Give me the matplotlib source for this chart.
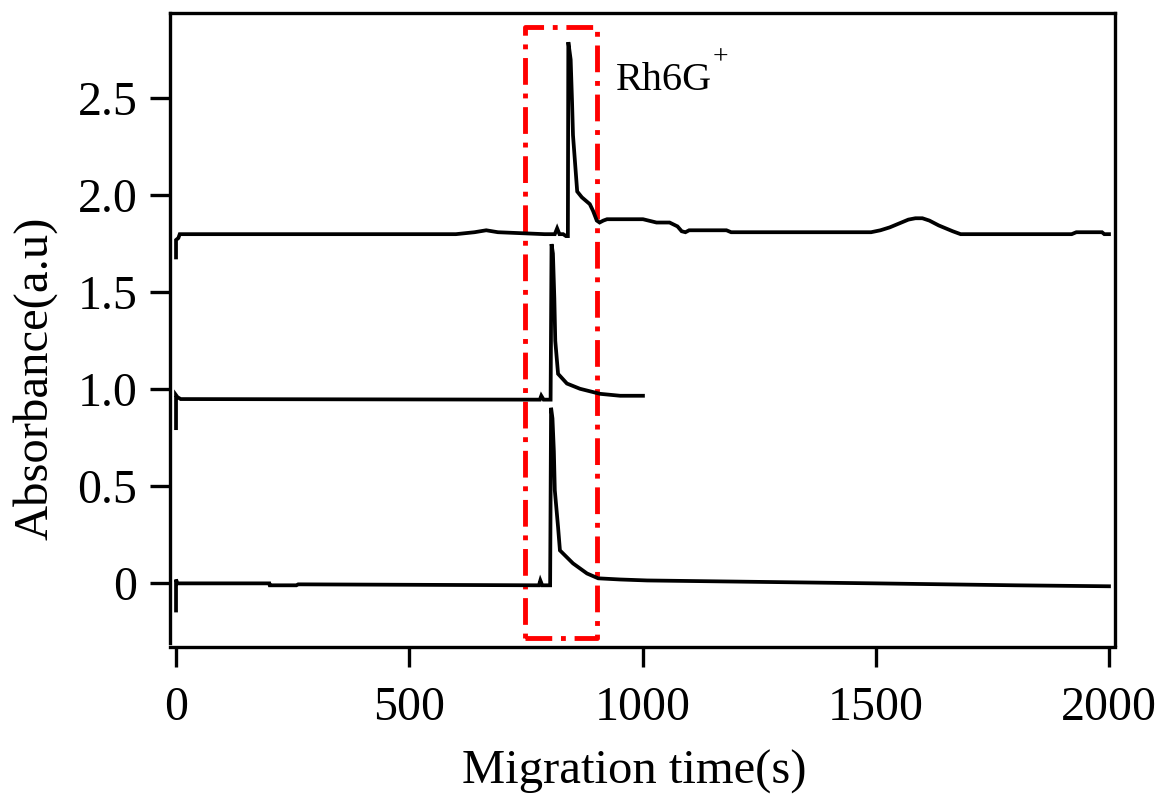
import matplotlib
matplotlib.use("Agg")
import matplotlib.pyplot as plt

plt.rcParams['font.family'] = ['Liberation Serif', 'DejaVu Serif']

# ---- data ----
# top trace (offset ~1.8)
top_t = [0, 0, 5, 8, 600, 640, 665, 690, 790, 805, 812, 817, 822, 830, 836, 840, 841,
         846, 849, 851, 860, 870, 887, 894, 902, 908, 916, 924, 1001, 1030, 1058, 1075,
         1084, 1092, 1100, 1180, 1190, 1490, 1510, 1530, 1550, 1570, 1585, 1600, 1615,
         1635, 1650, 1665, 1682, 1920, 1930, 1985, 1990, 2000]
top_v = [1.68, 1.77, 1.78, 1.80, 1.80, 1.81, 1.82, 1.81, 1.80, 1.80, 1.80, 1.83, 1.80,
         1.80, 1.79, 1.79, 2.79, 2.70, 2.48, 2.31, 2.02, 1.99, 1.955, 1.92, 1.87, 1.86,
         1.87, 1.877, 1.877, 1.86, 1.86, 1.84, 1.815, 1.81, 1.82, 1.82, 1.81, 1.81, 1.82,
         1.835, 1.855, 1.875, 1.882, 1.882, 1.87, 1.845, 1.83, 1.815, 1.80, 1.80, 1.81,
         1.81, 1.80, 1.80]

# middle trace (offset ~0.95)
mid_t = [0, 0, 3, 10, 780, 783, 788, 803, 805, 808, 811, 813, 819, 838, 866, 909, 952, 1001]
mid_v = [0.80, 0.97, 0.96, 0.95, 0.947, 0.967, 0.947, 0.947, 1.749, 1.70, 1.47, 1.25,
         1.08, 1.03, 1.003, 0.977, 0.967, 0.967]

# bottom trace (offset 0)
bot_t = [0, 0, 3, 8, 200, 201, 258, 262, 778, 781, 785, 802, 804, 807, 810, 812, 819,
         823, 851, 881, 905, 952, 1010, 1500, 1800, 2000]
bot_v = [-0.14, 0.02, 0.0, 0.0, 0.0, -0.01, -0.01, -0.005, -0.01, 0.015, -0.01, -0.01,
         0.905, 0.85, 0.68, 0.48, 0.29, 0.17, 0.103, 0.051, 0.026, 0.02, 0.015, 0.0,
         -0.01, -0.015]

# highlight box (time range and absorbance range)
box_t = [748, 902]
box_a = [-0.283, 2.87]

x_ticks = [0, 500, 1000, 1500, 2000]
y_ticks = [0, 0.5, 1.0, 1.5, 2.0, 2.5]
y_ticklabels = ['0', '0.5', '1.0', '1.5', '2.0', '2.5']

# ---- figure ----
fig = plt.figure(figsize=(11.6, 7.94), dpi=100)
ax = fig.add_axes([170/1160, 1-647/794, 945/1160, 634/794])

lw = 2.7
for t, v in [(top_t, top_v), (mid_t, mid_v), (bot_t, bot_v)]:
    ax.plot(t, v, color='black', lw=lw, solid_joinstyle='miter')

bx = [box_t[0], box_t[1], box_t[1], box_t[0], box_t[0]]
by = [box_a[0], box_a[0], box_a[1], box_a[1], box_a[0]]
ax.plot(bx, by, color='#ff0000', lw=3.5, dashes=(5.5, 1.8, 1.0, 1.8),
        dash_capstyle='butt', zorder=1)

ax.set_xlim(-12.9, 2012.9)
ax.set_ylim(-0.328, 2.94)
ax.set_xticks(x_ticks)
ax.set_xticklabels([str(v) for v in x_ticks])
ax.set_yticks(y_ticks)
ax.set_yticklabels(y_ticklabels)

for s in ax.spines.values():
    s.set_linewidth(2.4)
ax.spines['left'].set_bounds(-0.308, 2.94)
ax.spines['right'].set_bounds(-0.318, 2.94)

ax.tick_params(axis='both', direction='out', length=14.4, width=2.4,
               labelsize=34.5, colors='black')
ax.tick_params(axis='x', pad=14)
ax.tick_params(axis='y', pad=9)
ax.tick_params(top=False, right=False)

fig.text(35/1160, 1-378/794, 'Absorbance(a.u)', rotation=90, ha='center',
         va='center', fontsize=35)
fig.text(634/1160, 1-784/794, 'Migration time(s)', ha='center', va='baseline',
         fontsize=35)

fig.text(616/1160, 1-90/794, 'Rh6G', ha='left', va='baseline', fontsize=29)
fig.text(713/1160, 1-64/794, '+', ha='left', va='baseline', fontsize=20)

fig.savefig('out.png', dpi=100)
